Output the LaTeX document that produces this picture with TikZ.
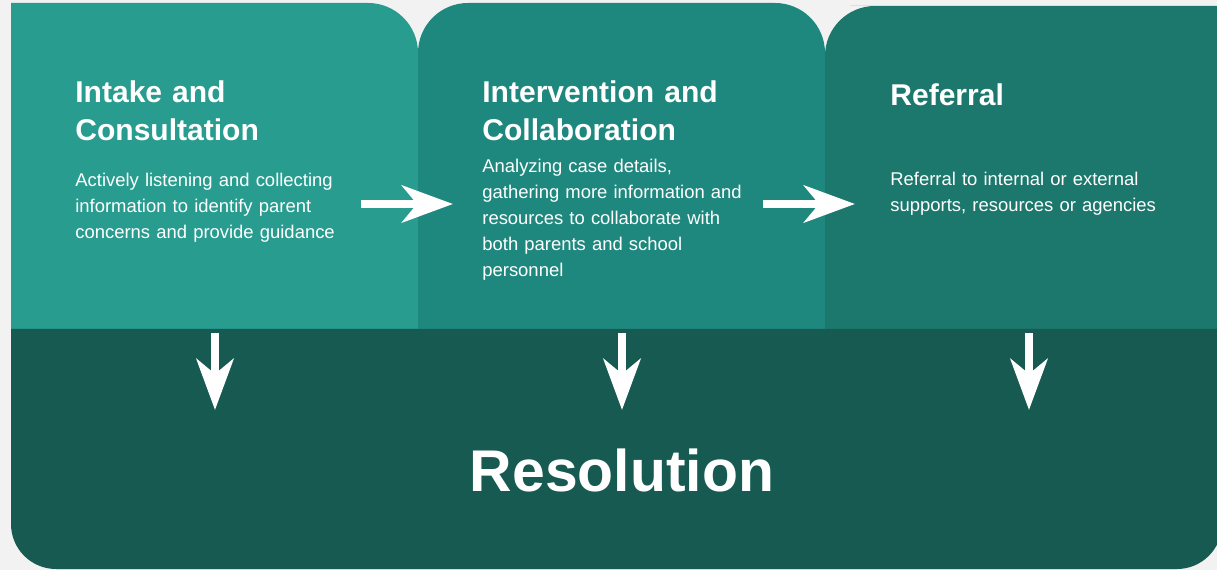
\documentclass[tikz,border=0pt]{standalone}
\usepackage{fontspec}
\setmainfont{Liberation Sans}
\usetikzlibrary{arrows.meta}

\definecolor{pagegrey}{HTML}{F2F2F2}
\definecolor{intakecol}{HTML}{279C8F}
\definecolor{interventioncol}{HTML}{1F887E}
\definecolor{referralcol}{HTML}{1C786D}
\definecolor{resolutioncol}{HTML}{165A52}

\begin{document}
\begin{tikzpicture}[x=0.02cm,y=-0.02cm,
    heading/.style={anchor=base west,inner sep=0,text=white,text width=7cm,align=left,font=\headingfont},
    blurb/.style={anchor=base west,inner sep=0,text=white,text width=7cm,align=left,font=\blurbfont},
    flow/.style={white,line width=0.17cm,-{Stealth[length=1.02cm,width=0.74cm,inset=0.3cm]}}]
    \pgfmathsetmacro{\paneltop}{3}
    \pgfmathsetmacro{\panelfoot}{400}
    \pgfmathsetmacro{\bandtop}{329}
    \providecommand{\headingfont}{\fontsize{17.1}{21.5}\selectfont\bfseries}
    \providecommand{\blurbfont}{\fontsize{10.5}{14.7}\selectfont}
    \providecommand{\bigfont}{\fontsize{33.5}{40}\selectfont\bfseries}
    \useasboundingbox (0,0) rectangle (1217,570);
    \fill[pagegrey] (0,0) rectangle (1217,570);
    \clip (0,0) rectangle (1217,570);
    % the three steps
    \fill[intakecol] (11,\panelfoot) -- (11,\paneltop) -- (300,\paneltop) [rounded corners=1cm] -- (418,\paneltop) -- (418,100) [sharp corners] -- (418,\panelfoot) -- cycle;
    \fill[interventioncol] (418,\panelfoot) -- (418,100) [rounded corners=1cm] -- (418,\paneltop) -- (825,\paneltop) -- (825,100) [sharp corners] -- (825,\panelfoot) -- cycle;
    \fill[referralcol] (825,\panelfoot) -- (825,100) [rounded corners=1cm] -- (825,6) -- (900,6) [sharp corners] -- (1230,6) -- (1230,\panelfoot) -- cycle;
    % resolution band
    \fill[resolutioncol] (11,\bandtop) -- (11,420) [rounded corners=0.9cm] -- (11,569) -- (1222,569) -- (1222,420) [sharp corners] -- (1222,\bandtop) -- cycle;

    \node[heading] (intakehead) at (75,103) {Intake and\\Consultation};
    \node[blurb] (intakebody) at (75,187) {Actively listening and collecting\\information to identify parent\\concerns and provide guidance};
    \node[heading] (interventionhead) at (482,103) {Intervention and\\Collaboration};
    \node[blurb] (interventionbody) at (482,173) {Analyzing case details,\\gathering more information and\\resources to collaborate with\\both parents and school\\personnel};
    \node[heading] (referralhead) at (890,106) {Referral};
    \node[blurb] (referralbody) at (890,186) {Referral to internal or external\\supports, resources or agencies};
    \node[anchor=base,inner sep=0,text=white,font=\bigfont] (resolution) at (622,492) {Resolution};

    \coordinate (intakeout) at (361,204);
    \coordinate (interventionin) at (453,204);
    \coordinate (interventionout) at (763,204);
    \coordinate (referralin) at (855,204);
    \draw[flow] (intakeout) -- (interventionin);
    \draw[flow] (interventionout) -- (referralin);
    \foreach \name/\xpos in {intake/215,intervention/622,referral/1029} {
        \coordinate (\name down) at (\xpos,333);
        \coordinate (\name res) at (\xpos,410);
        \draw[flow] (\name down) -- (\name res);
    }
\end{tikzpicture}
\end{document}
